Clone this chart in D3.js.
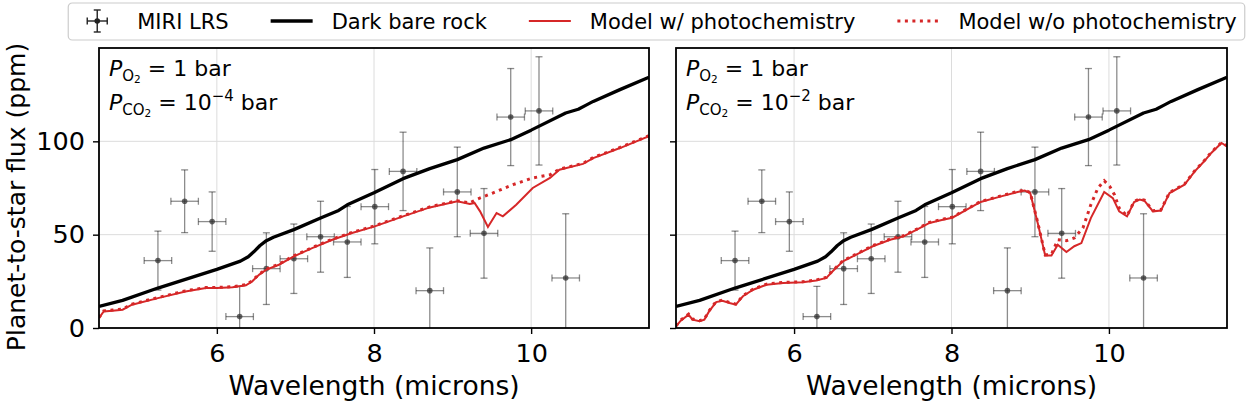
<!DOCTYPE html>
<html>
<head>
<meta charset="utf-8">
<script src="https://cdn.jsdelivr.net/npm/d3@7"></script>
<style>
body { margin: 0; background: #fff; }
svg { display: block; font-family: "DejaVu Sans", sans-serif; }
text { white-space: pre; }
</style>
</head>
<body>
<svg id="chart" width="1253" height="403"></svg>
<script>
// MIRI LRS eclipse points (same in both panels)
var obsWave = [5.25, 5.59, 5.94, 6.29, 6.63, 6.98, 7.32, 7.66, 8.01, 8.37, 8.71, 9.06, 9.40, 9.74, 10.10, 10.44];
var obsFlux = [36.1, 67.9, 57.0, 6.1, 31.8, 37.1, 48.9, 46.1, 65.0, 83.9, 20.0, 72.9, 50.7, 113.0, 116.3, 26.8];
var obsErr = [15.8, 16.8, 15.9, 16.2, 19.2, 18.6, 19.0, 19.0, 19.9, 21.0, 22.9, 24.0, 24.0, 26.0, 29.0, 34.4];
var obsWaveErr = [0.175, 0.175, 0.175, 0.175, 0.175, 0.175, 0.175, 0.175, 0.175, 0.175, 0.175, 0.175, 0.175, 0.175, 0.175, 0.175];

// dark bare rock
var rockWave = [4.5, 4.8, 5.25, 6.0, 6.3, 6.4, 6.47, 6.55, 6.63, 6.72, 6.98, 7.32, 7.55, 7.66, 8.0, 8.37, 8.71, 9.06, 9.4, 9.74, 10.0, 10.44, 10.6, 10.7, 10.79, 11.13, 11.5];
var rockFlux = [11.6, 14.8, 21.4, 31.4, 35.8, 38.2, 40.8, 44.2, 46.8, 48.6, 52.7, 58.9, 63.0, 66.0, 72.5, 80.0, 85.4, 90.2, 96.4, 100.9, 106.0, 115.2, 117.2, 119.4, 121.4, 127.7, 134.3];

// panel a: P_CO2 = 1e-4 bar
var photoWaveA = [4.5, 4.56, 4.67, 4.8, 4.92, 5.25, 5.6, 5.86, 6.0, 6.2, 6.37, 6.45, 6.54, 6.63, 6.79, 6.98, 7.22, 7.47, 7.72, 8.0, 8.37, 8.71, 9.06, 9.22, 9.28, 9.35, 9.45, 9.56, 9.64, 9.81, 10.02, 10.24, 10.36, 10.66, 10.79, 11.13, 11.5];
var photoFluxA = [5.4, 8.9, 9.3, 9.8, 12.5, 16.0, 19.6, 21.4, 21.4, 21.8, 22.9, 25.0, 28.6, 31.3, 33.9, 38.4, 42.9, 47.3, 50.9, 54.3, 59.8, 64.6, 67.9, 66.4, 67.0, 62.5, 54.1, 61.6, 59.8, 66.0, 75.0, 80.4, 84.8, 87.9, 91.0, 96.4, 102.7];
var noPhotoWaveA = [4.5, 4.56, 4.67, 4.8, 4.92, 5.25, 5.6, 5.86, 6.0, 6.2, 6.37, 6.45, 6.54, 6.63, 6.79, 6.98, 7.22, 7.47, 7.72, 8.0, 8.37, 8.71, 9.06, 9.22, 9.3, 9.51, 9.77, 10.02, 10.24, 10.36, 10.66, 10.79, 11.13, 11.5];
var noPhotoFluxA = [5.6, 9.2, 9.6, 10.1, 12.8, 16.3, 19.9, 21.7, 21.7, 22.1, 23.2, 25.3, 28.9, 31.6, 34.2, 38.7, 43.2, 47.6, 51.2, 54.6, 60.1, 64.9, 68.2, 67.0, 68.8, 72.3, 76.8, 80.4, 82.1, 85.1, 88.2, 91.3, 96.7, 103.0];

// panel b: P_CO2 = 1e-2 bar
var photoWaveB = [4.5, 4.56, 4.66, 4.71, 4.8, 4.86, 4.92, 5.01, 5.09, 5.18, 5.26, 5.35, 5.48, 5.65, 5.86, 6.11, 6.28, 6.41, 6.49, 6.62, 6.79, 7.0, 7.22, 7.39, 7.56, 7.72, 7.89, 8.01, 8.37, 8.63, 8.84, 8.93, 9.0, 9.1, 9.19, 9.27, 9.35, 9.46, 9.56, 9.65, 9.77, 9.94, 10.05, 10.13, 10.23, 10.32, 10.39, 10.45, 10.56, 10.66, 10.77, 10.96, 11.09, 11.21, 11.3, 11.43, 11.5];
var photoFluxB = [0.9, 3.9, 7.1, 4.5, 3.6, 4.5, 8.9, 13.9, 14.6, 13.4, 12.5, 17.0, 20.5, 23.2, 24.1, 24.5, 25.4, 26.8, 30.4, 35.7, 39.3, 43.8, 47.3, 49.1, 52.7, 56.3, 58.0, 59.1, 67.5, 70.5, 72.9, 73.6, 72.3, 55.4, 38.9, 38.9, 44.6, 40.7, 43.8, 45.5, 58.9, 72.9, 69.6, 62.5, 59.8, 67.5, 68.8, 68.2, 62.5, 62.9, 72.3, 76.8, 83.9, 89.3, 93.8, 99.1, 97.3];
var noPhotoWaveB = [4.5, 4.56, 4.66, 4.71, 4.8, 4.86, 4.92, 5.01, 5.09, 5.18, 5.26, 5.35, 5.48, 5.65, 5.86, 6.11, 6.28, 6.41, 6.49, 6.62, 6.79, 7.0, 7.22, 7.39, 7.56, 7.72, 7.89, 8.01, 8.37, 8.63, 8.84, 8.93, 9.0, 9.1, 9.19, 9.27, 9.35, 9.46, 9.56, 9.67, 9.77, 9.86, 9.94, 10.01, 10.07, 10.13, 10.23, 10.32, 10.39, 10.45, 10.56, 10.66, 10.77, 10.96, 11.09, 11.21, 11.3, 11.43, 11.5];
var noPhotoFluxB = [1.2, 4.2, 7.4, 4.8, 3.9, 4.8, 9.2, 14.2, 14.9, 13.7, 12.8, 17.3, 20.8, 23.5, 24.4, 24.8, 25.7, 27.1, 30.7, 36.0, 39.6, 44.1, 47.6, 49.4, 53.0, 56.6, 58.3, 59.4, 67.8, 70.8, 73.2, 73.9, 72.6, 55.7, 39.2, 39.4, 47.3, 46.8, 48.2, 53.6, 66.0, 75.0, 78.9, 75.9, 71.4, 64.3, 60.1, 67.8, 69.1, 68.5, 62.8, 63.2, 72.6, 77.1, 84.2, 89.6, 94.1, 99.4, 97.6];

var xTicks = [6, 8, 10];
var yTicks = [0, 50, 100];
var legendLabels = ["MIRI LRS", "Dark bare rock", "Model w/ photochemistry", "Model w/o photochemistry"];
var co2Exponent = ["\u22124", "\u22122"];

var red = "#d62728";
var svg = d3.select("#chart");
var plotTop = 48, plotBottom = 328;

var panels = [
	{left: 99, right: 649, photoW: photoWaveA, photoF: photoFluxA, noW: noPhotoWaveA, noF: noPhotoFluxA, exp: co2Exponent[0], labels: true},
	{left: 676, right: 1227, photoW: photoWaveB, photoF: photoFluxB, noW: noPhotoWaveB, noF: noPhotoFluxB, exp: co2Exponent[1], labels: false}
];

function zip(xs, ys) {
	return xs.map(function(d, i) { return [d, ys[i]]; });
}

panels.forEach(function(p, k) {
	var x = d3.scaleLinear().domain([4.5, 11.5]).range([p.left, p.right]);
	var y = d3.scaleLinear().domain([0, 150]).range([plotBottom, plotTop]);

	var line = d3.line()
		.x(function(d) { return x(d[0]); })
		.y(function(d) { return y(d[1]); });

	svg.append("clipPath").attr("id", "clip" + k)
		.append("rect")
		.attr("x", p.left).attr("y", plotTop)
		.attr("width", p.right - p.left).attr("height", plotBottom - plotTop);

	var g = svg.append("g");

	// grid
	g.selectAll(".gx").data(xTicks).enter().append("line")
		.attr("x1", function(d) { return x(d); }).attr("x2", function(d) { return x(d); })
		.attr("y1", plotTop).attr("y2", plotBottom)
		.attr("stroke", "#dcdcdc").attr("stroke-width", 1);
	g.selectAll(".gy").data(yTicks).enter().append("line")
		.attr("x1", p.left).attr("x2", p.right)
		.attr("y1", function(d) { return y(d); }).attr("y2", function(d) { return y(d); })
		.attr("stroke", "#dcdcdc").attr("stroke-width", 1);

	var plot = g.append("g").attr("clip-path", "url(#clip" + k + ")");

	// error bars
	var eb = plot.selectAll(".eb").data(obsWave).enter().append("g")
		.attr("stroke", "#000").attr("stroke-opacity", 0.45).attr("stroke-width", 1.3);
	eb.append("line")
		.attr("x1", function(d) { return x(d); }).attr("x2", function(d) { return x(d); })
		.attr("y1", function(d, i) { return y(obsFlux[i] - obsErr[i]); })
		.attr("y2", function(d, i) { return y(obsFlux[i] + obsErr[i]); });
	eb.append("line")
		.attr("x1", function(d, i) { return x(d - obsWaveErr[i]); })
		.attr("x2", function(d, i) { return x(d + obsWaveErr[i]); })
		.attr("y1", function(d, i) { return y(obsFlux[i]); })
		.attr("y2", function(d, i) { return y(obsFlux[i]); });
	[-1, 1].forEach(function(s) {
		eb.append("line")
			.attr("x1", function(d) { return x(d) - 3.5; }).attr("x2", function(d) { return x(d) + 3.5; })
			.attr("y1", function(d, i) { return y(obsFlux[i] + s * obsErr[i]); })
			.attr("y2", function(d, i) { return y(obsFlux[i] + s * obsErr[i]); });
		eb.append("line")
			.attr("x1", function(d, i) { return x(d + s * obsWaveErr[i]); })
			.attr("x2", function(d, i) { return x(d + s * obsWaveErr[i]); })
			.attr("y1", function(d, i) { return y(obsFlux[i]) - 3.5; })
			.attr("y2", function(d, i) { return y(obsFlux[i]) + 3.5; });
	});
	eb.append("circle")
		.attr("cx", function(d) { return x(d); })
		.attr("cy", function(d, i) { return y(obsFlux[i]); })
		.attr("r", 2.8).attr("stroke", "none")
		.attr("fill", "#333").attr("fill-opacity", 0.75);

	// models
	plot.append("path").datum(zip(rockWave, rockFlux))
		.attr("d", line).attr("fill", "none")
		.attr("stroke", "#000").attr("stroke-width", 3.3).attr("stroke-linejoin", "round");
	plot.append("path").datum(zip(p.noW, p.noF))
		.attr("d", line).attr("fill", "none")
		.attr("stroke", red).attr("stroke-width", 3).attr("stroke-dasharray", "3,4.5");
	plot.append("path").datum(zip(p.photoW, p.photoF))
		.attr("d", line).attr("fill", "none")
		.attr("stroke", red).attr("stroke-width", 2);

	// axes
	var xa = g.append("g").attr("transform", "translate(0," + plotBottom + ")")
		.call(d3.axisBottom(x).tickValues(xTicks).tickFormat(d3.format("d")).tickSize(6).tickPadding(10));
	var ya = g.append("g").attr("transform", "translate(" + p.left + ",0)")
		.call(d3.axisLeft(y).tickValues(yTicks).tickSize(6).tickPadding(8)
			.tickFormat(p.labels ? d3.format("d") : function() { return ""; }));
	[xa, ya].forEach(function(a) {
		a.attr("font-size", 25.5).attr("font-family", "DejaVu Sans");
		a.select(".domain").remove();
		a.selectAll(".tick line").attr("stroke-width", 1.4);
		a.selectAll(".tick text").attr("fill", "#000");
	});

	g.append("rect")
		.attr("x", p.left).attr("y", plotTop)
		.attr("width", p.right - p.left).attr("height", plotBottom - plotTop)
		.attr("fill", "none").attr("stroke", "#000").attr("stroke-width", 1.8);

	g.append("text")
		.attr("x", (p.left + p.right) / 2).attr("y", 395)
		.attr("text-anchor", "middle").attr("font-size", 26.5)
		.text("Wavelength (microns)");

	// annotation
	var t1 = g.append("text").attr("x", p.left + 10).attr("y", plotTop + 28).attr("font-size", 22);
	t1.append("tspan").attr("font-style", "italic").text("P");
	t1.append("tspan").attr("font-size", 15).attr("dy", 5).text("O");
	t1.append("tspan").attr("font-size", 10.5).attr("dy", 2).text("2");
	t1.append("tspan").attr("dy", -7).text(" = 1 bar");

	var t2 = g.append("text").attr("x", p.left + 10).attr("y", plotTop + 62).attr("font-size", 22);
	t2.append("tspan").attr("font-style", "italic").text("P");
	t2.append("tspan").attr("font-size", 15).attr("dy", 5).text("CO");
	t2.append("tspan").attr("font-size", 10.5).attr("dy", 2).text("2");
	t2.append("tspan").attr("dy", -7).text(" = 10");
	t2.append("tspan").attr("font-size", 15).attr("dy", -9).text(p.exp);
	t2.append("tspan").attr("dy", 9).text(" bar");
});

svg.append("text")
	.attr("transform", "translate(25,197) rotate(-90)")
	.attr("text-anchor", "middle").attr("font-size", 25)
	.text("Planet-to-star flux (ppm)");

// legend
var leg = svg.append("g");
var box = leg.append("rect")
	.attr("y", 3).attr("height", 37).attr("rx", 4)
	.attr("fill", "#fff").attr("fill-opacity", 0.8)
	.attr("stroke", "#cccccc").attr("stroke-width", 1.2);
var cx = 0, ly = 21, handle = 42, pad = 19, colSep = 42;
var items = leg.append("g");
legendLabels.forEach(function(lab, i) {
	var h = items.append("g").attr("transform", "translate(" + cx + ",0)");
	if (i === 0) {
		var m = handle / 2;
		h.append("line").attr("x1", m - 10).attr("x2", m + 10).attr("y1", ly).attr("y2", ly);
		h.append("line").attr("x1", m).attr("x2", m).attr("y1", ly - 11).attr("y2", ly + 11);
		h.append("line").attr("x1", m - 10).attr("x2", m - 10).attr("y1", ly - 3.5).attr("y2", ly + 3.5);
		h.append("line").attr("x1", m + 10).attr("x2", m + 10).attr("y1", ly - 3.5).attr("y2", ly + 3.5);
		h.append("line").attr("x1", m - 3.5).attr("x2", m + 3.5).attr("y1", ly - 11).attr("y2", ly - 11);
		h.append("line").attr("x1", m - 3.5).attr("x2", m + 3.5).attr("y1", ly + 11).attr("y2", ly + 11);
		h.selectAll("line").attr("stroke", "#222").attr("stroke-width", 1.4);
		h.append("circle").attr("cx", m).attr("cy", ly).attr("r", 2.8).attr("fill", "#222");
	} else {
		h.append("line").attr("x1", 0).attr("x2", handle).attr("y1", ly).attr("y2", ly)
			.attr("stroke", i === 1 ? "#000" : red)
			.attr("stroke-width", i === 1 ? 3.3 : (i === 3 ? 3 : 2))
			.attr("stroke-dasharray", i === 3 ? "3,4.5" : null);
	}
	var t = items.append("text").attr("x", cx + handle + pad).attr("y", ly + 7.5)
		.attr("font-size", 21).text(lab);
	cx += handle + pad + t.node().getComputedTextLength() + colSep;
});
var total = cx - colSep + 16;
var bx = 656.5 - total / 2;
box.attr("x", bx).attr("width", total);
items.attr("transform", "translate(" + (bx + 8) + ",0)");
</script>
</body>
</html>
